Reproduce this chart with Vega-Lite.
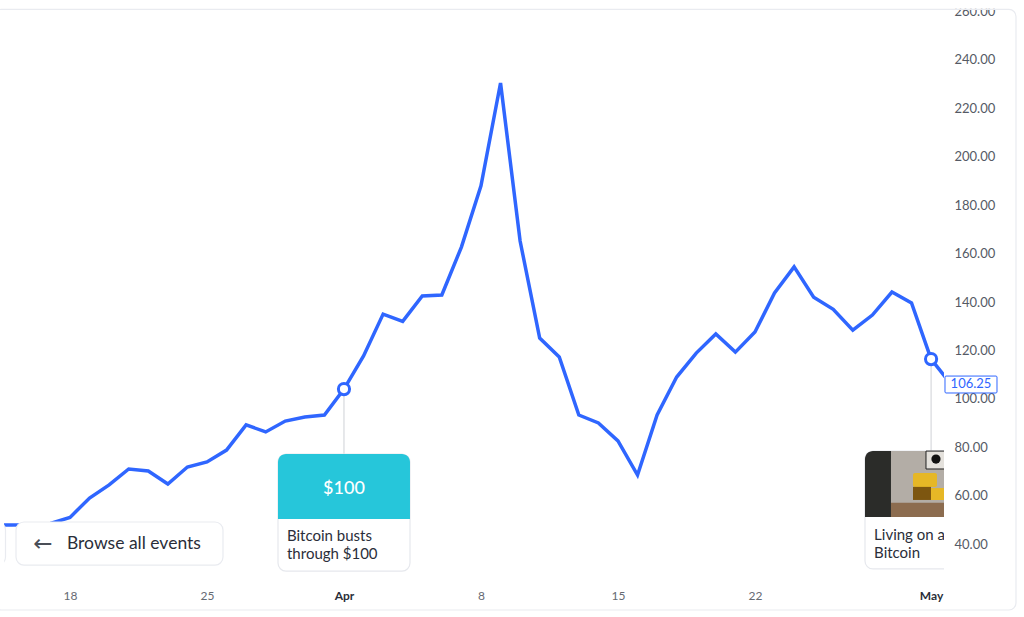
{
  "$schema": "https://vega.github.io/schema/vega-lite/v6.json",
  "width": 940,
  "height": 600,
  "autosize": "none",
  "padding": {"left": 4, "top": 10, "right": 80, "bottom": 7},
  "background": "white",
  "view": {"stroke": null},
  "config": {"text": {"font": "Lato"}, "axis": {"labelFont": "Lato"}},
  "resolve": {"axis": {"x": "independent", "y": "independent"}},
  "datasets": {
    "prices": [
      {"date": "2013-03-14T00:00:00", "price": 47.9},
      {"date": "2013-03-15T00:00:00", "price": 47.9},
      {"date": "2013-03-16T00:00:00", "price": 48},
      {"date": "2013-03-17T00:00:00", "price": 48.5},
      {"date": "2013-03-18T00:00:00", "price": 51},
      {"date": "2013-03-19T00:00:00", "price": 59},
      {"date": "2013-03-20T00:00:00", "price": 64.4},
      {"date": "2013-03-21T00:00:00", "price": 71},
      {"date": "2013-03-22T00:00:00", "price": 70.2},
      {"date": "2013-03-23T00:00:00", "price": 64.8},
      {"date": "2013-03-24T00:00:00", "price": 71.8},
      {"date": "2013-03-25T00:00:00", "price": 73.9},
      {"date": "2013-03-26T00:00:00", "price": 78.8},
      {"date": "2013-03-27T00:00:00", "price": 89.2},
      {"date": "2013-03-28T00:00:00", "price": 86.3},
      {"date": "2013-03-29T00:00:00", "price": 90.8},
      {"date": "2013-03-30T00:00:00", "price": 92.5},
      {"date": "2013-03-31T00:00:00", "price": 93.3},
      {"date": "2013-04-01T00:00:00", "price": 104},
      {"date": "2013-04-02T00:00:00", "price": 117.7},
      {"date": "2013-04-03T00:00:00", "price": 135},
      {"date": "2013-04-04T00:00:00", "price": 132},
      {"date": "2013-04-05T00:00:00", "price": 142.5},
      {"date": "2013-04-06T00:00:00", "price": 142.9},
      {"date": "2013-04-07T00:00:00", "price": 162.7},
      {"date": "2013-04-08T00:00:00", "price": 188},
      {"date": "2013-04-09T00:00:00", "price": 230.5},
      {"date": "2013-04-10T00:00:00", "price": 165.2},
      {"date": "2013-04-11T00:00:00", "price": 125.1},
      {"date": "2013-04-12T00:00:00", "price": 117.3},
      {"date": "2013-04-13T00:00:00", "price": 93.3},
      {"date": "2013-04-14T00:00:00", "price": 90},
      {"date": "2013-04-15T00:00:00", "price": 82.6},
      {"date": "2013-04-16T00:00:00", "price": 68.5},
      {"date": "2013-04-17T00:00:00", "price": 93.3},
      {"date": "2013-04-18T00:00:00", "price": 109},
      {"date": "2013-04-19T00:00:00", "price": 118.9},
      {"date": "2013-04-20T00:00:00", "price": 126.8},
      {"date": "2013-04-21T00:00:00", "price": 119.3},
      {"date": "2013-04-22T00:00:00", "price": 127.6},
      {"date": "2013-04-23T00:00:00", "price": 143.7},
      {"date": "2013-04-24T00:00:00", "price": 154.5},
      {"date": "2013-04-25T00:00:00", "price": 142},
      {"date": "2013-04-26T00:00:00", "price": 137},
      {"date": "2013-04-27T00:00:00", "price": 128.4},
      {"date": "2013-04-28T00:00:00", "price": 134.6},
      {"date": "2013-04-29T00:00:00", "price": 144.1},
      {"date": "2013-04-30T00:00:00", "price": 139.6},
      {"date": "2013-05-01T00:00:00", "price": 116.4},
      {"date": "2013-05-02T00:00:00", "price": 106.25}
    ],
    "events": [
      {"date": "2013-04-01T00:00:00", "price": 104, "tag": "$100", "caption": "Bitcoin busts\nthrough $100"},
      {"date": "2013-05-01T00:00:00", "price": 116.4, "caption": "Living on a\nBitcoin"}
    ],
    "one": [{"note": "decoration"}]
  },
  "layer": [
    {
      "data": {"name": "prices"},
      "mark": {"type": "line", "color": "#2f66ff", "strokeWidth": 3.5, "clip": true},
      "encoding": {
        "x": {
          "field": "date",
          "type": "temporal",
          "title": null,
          "scale": {"domain": [
            {"year": 2013, "month": 3, "date": 14, "hours": 15, "minutes": 4},
            {"year": 2013, "month": 5, "date": 1, "hours": 15, "minutes": 50}
          ]},
          "axis": {
            "values": [
              {"year": 2013, "month": 3, "date": 18},
              {"year": 2013, "month": 3, "date": 25},
              {"year": 2013, "month": 4, "date": 1},
              {"year": 2013, "month": 4, "date": 8},
              {"year": 2013, "month": 4, "date": 15},
              {"year": 2013, "month": 4, "date": 22},
              {"year": 2013, "month": 5, "date": 1}
            ],
            "domain": false,
            "ticks": false,
            "grid": false,
            "labelPadding": -20,
            "labelFontSize": 12,
            "labelOverlap": false,
            "labelBound": false,
            "labelFlush": false,
            "labelExpr": "date(datum.value) == 1 ? timeFormat(datum.value, '%b') : timeFormat(datum.value, '%-d')",
            "labelFontWeight": {"condition": {"test": "date(datum.value) == 1", "value": "bold"}, "value": "normal"},
            "labelColor": {"condition": {"test": "date(datum.value) == 1", "value": "#2a2e39"}, "value": "#666a73"}
          }
        },
        "y": {
          "field": "price",
          "type": "quantitative",
          "title": null,
          "scale": {"domain": [12.73, 260.66], "zero": false, "nice": false},
          "axis": {
            "orient": "right",
            "values": [40, 60, 80, 100, 120, 140, 160, 180, 200, 220, 240, 260],
            "format": ".2f",
            "domain": false,
            "ticks": false,
            "grid": false,
            "labelPadding": 10,
            "labelFontSize": 13,
            "labelColor": "#555a65",
            "labelAlign": "left",
            "labelOverlap": false,
            "labelBound": false,
            "labelFlush": false
          }
        }
      }
    },
    {
      "data": {"name": "one"},
      "mark": {"type": "rect", "fill": "white", "clip": false},
      "encoding": {
        "x": {"datum": {"year": 2013, "month": 3, "date": 14, "hours": 2}, "type": "temporal", "axis": null},
        "x2": {"datum": {"year": 2013, "month": 5, "date": 5, "hours": 18}},
        "y": {"datum": 261.2, "type": "quantitative", "axis": null},
        "y2": {"datum": 266}
      }
    },
    {
      "data": {"name": "one"},
      "mark": {"type": "rect", "fill": "transparent", "stroke": "#e9ebf0", "strokeWidth": 1.2, "cornerRadius": 7, "clip": false},
      "encoding": {
        "x": {"datum": {"year": 2013, "month": 3, "date": 14, "hours": 2, "minutes": 48}, "type": "temporal", "axis": null},
        "x2": {"datum": {"year": 2013, "month": 5, "date": 5, "hours": 8, "minutes": 7}},
        "y": {"datum": 260.9, "type": "quantitative", "axis": null},
        "y2": {"datum": 12.73}
      }
    },
    {
      "data": {"name": "events"},
      "mark": {"type": "rule", "color": "#cfd1d6", "strokeWidth": 1},
      "encoding": {
        "x": {"field": "date", "type": "temporal", "axis": null},
        "y": {"field": "price", "type": "quantitative", "axis": null},
        "y2": {"datum": 72}
      }
    },
    {
      "data": {"name": "events"},
      "mark": {"type": "point", "filled": true, "fill": "white", "stroke": "#2f66ff", "strokeWidth": 3, "size": 125, "opacity": 1},
      "encoding": {
        "x": {"field": "date", "type": "temporal", "axis": null},
        "y": {"field": "price", "type": "quantitative", "axis": null}
      }
    },
    {
      "data": {"name": "one"},
      "mark": {"type": "rect", "fill": "white", "stroke": "#e9ebf0", "strokeWidth": 1.2, "cornerRadius": 8, "clip": true},
      "encoding": {
        "x": {"datum": {"year": 2013, "month": 3, "date": 13}, "type": "temporal", "axis": null},
        "x2": {"datum": {"year": 2013, "month": 3, "date": 14, "hours": 16, "minutes": 54}},
        "y": {"datum": 49.1, "type": "quantitative", "axis": null},
        "y2": {"datum": 31.3}
      }
    },
    {
      "data": {"name": "one"},
      "mark": {"type": "rect", "fill": "white", "stroke": "#e9ebf0", "strokeWidth": 1.2, "cornerRadius": 8},
      "encoding": {
        "x": {"datum": {"year": 2013, "month": 3, "date": 15, "hours": 5, "minutes": 47}, "type": "temporal", "axis": null},
        "x2": {"datum": {"year": 2013, "month": 3, "date": 25, "hours": 19, "minutes": 38}},
        "y": {"datum": 49.1, "type": "quantitative", "axis": null},
        "y2": {"datum": 31.3}
      }
    },
    {
      "data": {"name": "one"},
      "mark": {"type": "text", "text": "←", "font": "DejaVu Sans", "fontSize": 23, "color": "#4a4e57"},
      "encoding": {
        "x": {"datum": {"year": 2013, "month": 3, "date": 16, "hours": 14, "minutes": 53}, "type": "temporal", "axis": null},
        "y": {"datum": 40, "type": "quantitative", "axis": null}
      }
    },
    {
      "data": {"name": "one"},
      "mark": {"type": "text", "text": "Browse all events", "fontSize": 17.5, "align": "left", "color": "#2a2e39"},
      "encoding": {
        "x": {"datum": {"year": 2013, "month": 3, "date": 17, "hours": 20, "minutes": 19}, "type": "temporal", "axis": null},
        "y": {"datum": 40, "type": "quantitative", "axis": null}
      }
    },
    {
      "data": {"name": "one"},
      "mark": {"type": "rect", "fill": "white", "stroke": "#e6e8ed", "strokeWidth": 1.2, "cornerRadius": 8},
      "encoding": {
        "x": {"datum": {"year": 2013, "month": 3, "date": 28, "hours": 15, "minutes": 5}, "type": "temporal", "axis": null},
        "x2": {"datum": {"year": 2013, "month": 4, "date": 4, "hours": 8, "minutes": 57}},
        "y": {"datum": 77.2, "type": "quantitative", "axis": null},
        "y2": {"datum": 28.8}
      }
    },
    {
      "data": {"name": "one"},
      "mark": {"type": "rect", "fill": "#26c6da", "cornerRadiusTopLeft": 8, "cornerRadiusTopRight": 8},
      "encoding": {
        "x": {"datum": {"year": 2013, "month": 3, "date": 28, "hours": 15, "minutes": 5}, "type": "temporal", "axis": null},
        "x2": {"datum": {"year": 2013, "month": 4, "date": 4, "hours": 8, "minutes": 57}},
        "y": {"datum": 77.2, "type": "quantitative", "axis": null},
        "y2": {"datum": 50.3}
      }
    },
    {
      "data": {"name": "events"},
      "transform": [{"filter": "datum.tag"}],
      "mark": {"type": "text", "color": "white", "fontSize": 18, "fontWeight": 500},
      "encoding": {
        "x": {"field": "date", "type": "temporal", "axis": null},
        "y": {"datum": 62.9, "type": "quantitative", "axis": null},
        "text": {"field": "tag"}
      }
    },
    {
      "data": {"name": "events"},
      "transform": [{"filter": "datum.tag"}],
      "mark": {"type": "text", "align": "left", "baseline": "top", "dx": -57, "fontSize": 15, "lineBreak": "\n", "lineHeight": 18, "color": "#2a2e39"},
      "encoding": {
        "x": {"field": "date", "type": "temporal", "axis": null},
        "y": {"datum": 46.1, "type": "quantitative", "axis": null},
        "text": {"field": "caption"}
      }
    },
    {
      "data": {"name": "one"},
      "mark": {"type": "rect", "fill": "white", "stroke": "#e6e8ed", "strokeWidth": 1.2, "cornerRadius": 8, "clip": true},
      "encoding": {
        "x": {"datum": {"year": 2013, "month": 4, "date": 27, "hours": 14, "minutes": 56}, "type": "temporal", "axis": null},
        "x2": {"datum": {"year": 2013, "month": 5, "date": 5}},
        "y": {"datum": 78.4, "type": "quantitative", "axis": null},
        "y2": {"datum": 29.7}
      }
    },
    {
      "data": {"name": "one"},
      "mark": {"type": "rect", "fill": "#b3ada6", "clip": true},
      "encoding": {
        "x": {"datum": {"year": 2013, "month": 4, "date": 28, "hours": 22, "minutes": 49}, "type": "temporal", "axis": null},
        "x2": {"datum": {"year": 2013, "month": 5, "date": 5}},
        "y": {"datum": 78.4, "type": "quantitative", "axis": null},
        "y2": {"datum": 51.2}
      }
    },
    {
      "data": {"name": "one"},
      "mark": {"type": "rect", "fill": "#8c6c4f", "clip": true},
      "encoding": {
        "x": {"datum": {"year": 2013, "month": 4, "date": 28, "hours": 22, "minutes": 49}, "type": "temporal", "axis": null},
        "x2": {"datum": {"year": 2013, "month": 5, "date": 5}},
        "y": {"datum": 57, "type": "quantitative", "axis": null},
        "y2": {"datum": 51.2}
      }
    },
    {
      "data": {"name": "one"},
      "mark": {"type": "rect", "fill": "#2b2c29", "cornerRadiusTopLeft": 8, "clip": true},
      "encoding": {
        "x": {"datum": {"year": 2013, "month": 4, "date": 27, "hours": 14, "minutes": 56}, "type": "temporal", "axis": null},
        "x2": {"datum": {"year": 2013, "month": 4, "date": 28, "hours": 22, "minutes": 49}},
        "y": {"datum": 78.4, "type": "quantitative", "axis": null},
        "y2": {"datum": 51.2}
      }
    },
    {
      "data": {"name": "one"},
      "mark": {"type": "rect", "fill": "#e4e1dc", "stroke": "#222222", "strokeWidth": 1, "clip": true},
      "encoding": {
        "x": {"datum": {"year": 2013, "month": 4, "date": 30, "hours": 17, "minutes": 45}, "type": "temporal", "axis": null},
        "x2": {"datum": {"year": 2013, "month": 5, "date": 5}},
        "y": {"datum": 78.4, "type": "quantitative", "axis": null},
        "y2": {"datum": 71}
      }
    },
    {
      "data": {"name": "one"},
      "mark": {"type": "point", "filled": true, "color": "#111111", "size": 85, "opacity": 1, "clip": true},
      "encoding": {
        "x": {"datum": {"year": 2013, "month": 5, "date": 1, "hours": 6}, "type": "temporal", "axis": null},
        "y": {"datum": 75.1, "type": "quantitative", "axis": null}
      }
    },
    {
      "data": {"name": "one"},
      "mark": {"type": "rect", "fill": "#e6b726", "cornerRadius": 2, "clip": true},
      "encoding": {
        "x": {"datum": {"year": 2013, "month": 4, "date": 30, "hours": 1, "minutes": 48}, "type": "temporal", "axis": null},
        "x2": {"datum": {"year": 2013, "month": 5, "date": 1, "hours": 7, "minutes": 14}},
        "y": {"datum": 69.3, "type": "quantitative", "axis": null},
        "y2": {"datum": 63.6}
      }
    },
    {
      "data": {"name": "one"},
      "mark": {"type": "rect", "fill": "#7d5610", "clip": true},
      "encoding": {
        "x": {"datum": {"year": 2013, "month": 4, "date": 30, "hours": 1, "minutes": 48}, "type": "temporal", "axis": null},
        "x2": {"datum": {"year": 2013, "month": 4, "date": 30, "hours": 23, "minutes": 52}},
        "y": {"datum": 63.6, "type": "quantitative", "axis": null},
        "y2": {"datum": 58.2}
      }
    },
    {
      "data": {"name": "one"},
      "mark": {"type": "rect", "fill": "#e6b726", "clip": true},
      "encoding": {
        "x": {"datum": {"year": 2013, "month": 4, "date": 30, "hours": 23, "minutes": 52}, "type": "temporal", "axis": null},
        "x2": {"datum": {"year": 2013, "month": 5, "date": 5}},
        "y": {"datum": 63.1, "type": "quantitative", "axis": null},
        "y2": {"datum": 58.2}
      }
    },
    {
      "data": {"name": "events"},
      "transform": [{"filter": "!datum.tag"}],
      "mark": {"type": "text", "align": "left", "baseline": "top", "dx": -57, "fontSize": 15, "lineBreak": "\n", "lineHeight": 18, "color": "#2a2e39", "clip": true},
      "encoding": {
        "x": {"field": "date", "type": "temporal", "axis": null},
        "y": {"datum": 46.7, "type": "quantitative", "axis": null},
        "text": {"field": "caption"}
      }
    },
    {
      "data": {"name": "one"},
      "mark": {"type": "rect", "fill": "white", "stroke": "#2f66ff", "strokeWidth": 1, "cornerRadius": 1, "clip": false},
      "encoding": {
        "x": {"datum": {"year": 2013, "month": 5, "date": 1, "hours": 17, "minutes": 3}, "type": "temporal", "axis": null},
        "x2": {"datum": {"year": 2013, "month": 5, "date": 4, "hours": 8, "minutes": 49}},
        "y": {"datum": 109.4, "type": "quantitative", "axis": null},
        "y2": {"datum": 102.4}
      }
    },
    {
      "data": {"name": "one"},
      "mark": {"type": "text", "text": "106.25", "fontSize": 13, "color": "#2f66ff", "clip": false},
      "encoding": {
        "x": {"datum": {"year": 2013, "month": 5, "date": 3, "hours": 0, "minutes": 56}, "type": "temporal", "axis": null},
        "y": {"datum": 106, "type": "quantitative", "axis": null}
      }
    }
  ]
}
